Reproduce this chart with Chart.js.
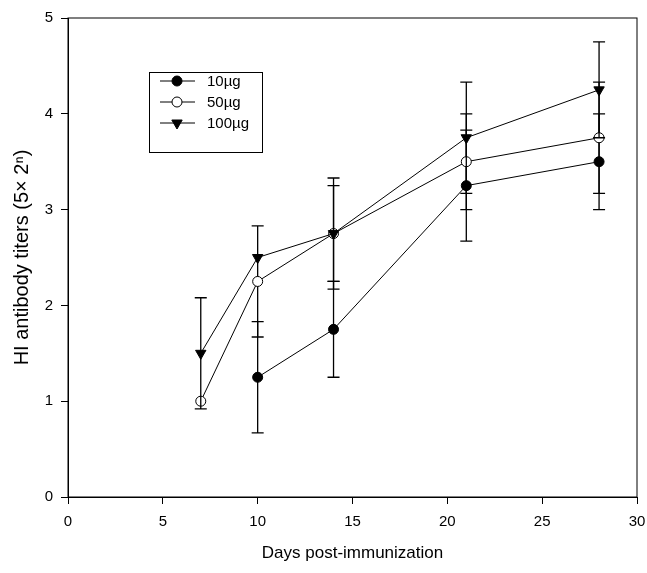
<!DOCTYPE html>
<html>
<head>
<meta charset="utf-8">
<script src="https://cdn.jsdelivr.net/npm/chart.js@4/dist/chart.umd.min.js"></script>
<style>
  html, body { margin: 0; padding: 0; background: #fff; }
  #wrap { width: 647px; height: 573px; }
</style>
</head>
<body>
<div id="wrap"><canvas id="hi-chart"></canvas></div>
<script>
// data
var days = [7, 10, 14, 21, 28];
var labels = ['10µg', '50µg', '100µg'];
var titer10 = [null, 1.25, 1.75, 3.25, 3.5];
var titer50 = [1.0, 2.25, 2.75, 3.5, 3.75];
var titer100 = [1.5, 2.5, 2.75, 3.75, 4.25];
var err10 = [0, 0.58, 0.5, 0.58, 0.5];
var err50 = [0, 0.58, 0.58, 0.5, 0.58];
var err100 = [0.58, 0, 0.5, 0.58, 0.5];
var xTicks = [0, 5, 10, 15, 20, 25, 30];
var yTicks = [0, 1, 2, 3, 4, 5];

var FONT = 'Liberation Sans, Arial, sans-serif';

function points(vals) {
  var out = [];
  for (var i = 0; i < days.length; i++) {
    if (vals[i] !== null) out.push({ x: days[i], y: vals[i] });
  }
  return out;
}

function errs(vals, e) {
  var out = [];
  for (var i = 0; i < days.length; i++) {
    if (vals[i] !== null) out.push(e[i]);
  }
  return out;
}

function series(label, vals, e, style, fill, rot, order) {
  return {
    label: label,
    data: points(vals),
    errors: errs(vals, e),
    borderColor: '#000',
    borderWidth: 1,
    pointStyle: style,
    pointRotation: rot,
    pointRadius: style === 'triangle' ? 6 : 5,
    pointBackgroundColor: fill,
    pointBorderColor: '#000',
    pointBorderWidth: 1,
    tension: 0,
    fill: false,
    order: order
  };
}

// error bars, drawn per dataset just before its line and symbols
var errorBars = {
  id: 'errorBars',
  beforeDatasetDraw: function (chart, args) {
    var ds = chart.data.datasets[args.index];
    var xs = chart.scales.x, ys = chart.scales.y;
    var ctx = chart.ctx;
    ctx.save();
    ctx.strokeStyle = '#000';
    ctx.lineWidth = 1.3;
    ds.data.forEach(function (p, i) {
      var e = ds.errors[i];
      if (!e) return;
      var px = xs.getPixelForValue(p.x);
      var top = ys.getPixelForValue(p.y + e);
      var bot = ys.getPixelForValue(p.y - e);
      ctx.beginPath();
      ctx.moveTo(px, top); ctx.lineTo(px, bot);
      ctx.moveTo(px - 6, top); ctx.lineTo(px + 6, top);
      ctx.moveTo(px - 6, bot); ctx.lineTo(px + 6, bot);
      ctx.stroke();
    });
    ctx.restore();
  }
};

var frame = {
  id: 'frame',
  beforeDatasetsDraw: function (chart) {
    var a = chart.chartArea, ctx = chart.ctx;
    ctx.save();
    ctx.strokeStyle = '#000';
    ctx.lineWidth = 1;
    ctx.strokeRect(a.left, a.top, a.right - a.left, a.bottom - a.top);
    ctx.restore();
  }
};

// boxed legend inside the plot, as in the figure
var boxLegend = {
  id: 'boxLegend',
  afterDraw: function (chart) {
    var ctx = chart.ctx;
    var bx = 149, by = 72, bw = 113, bh = 80;
    ctx.save();
    ctx.fillStyle = '#fff';
    ctx.fillRect(bx, by, bw, bh);
    ctx.strokeStyle = '#000';
    ctx.lineWidth = 1;
    ctx.strokeRect(bx + 0.5, by + 0.5, bw, bh);
    chart.data.datasets.forEach(function (ds, i) {
      var y = by + 9 + i * 21;
      ctx.beginPath();
      ctx.moveTo(160, y); ctx.lineTo(195, y);
      ctx.stroke();
      ctx.fillStyle = ds.pointBackgroundColor;
      Chart.helpers.drawPoint(ctx, {
        pointStyle: ds.pointStyle,
        radius: ds.pointRadius,
        rotation: ds.pointRotation,
        borderWidth: 1
      }, 177, y);
      ctx.fillStyle = '#000';
      ctx.font = '15px ' + FONT;
      ctx.textBaseline = 'middle';
      ctx.fillText(ds.label, 207, y + 1);
    });
    ctx.restore();
  }
};

var config = {
  type: 'line',
  data: {
    datasets: [
      series(labels[0], titer10, err10, 'circle', '#000', 0, 3),
      series(labels[1], titer50, err50, 'circle', '#fff', 0, 2),
      series(labels[2], titer100, err100, 'triangle', '#000', 180, 1)
    ]
  },
  options: {
    responsive: true,
    maintainAspectRatio: false,
    animation: false,
    layout: { padding: { top: 18, right: 10, left: 0, bottom: 0 } },
    plugins: {
      legend: { display: false },
      tooltip: { enabled: false }
    },
    scales: {
      x: {
        type: 'linear',
        min: 0,
        max: 30,
        afterFit: function (s) {
          s.height = 76;
          s.paddingLeft = 0;
          s.paddingRight = 0;
        },
        afterBuildTicks: function (s) { s.ticks = xTicks.map(function (v) { return { value: v }; }); },
        grid: { drawOnChartArea: false, drawTicks: true, tickLength: 7, color: '#000' },
        border: { color: '#000', width: 1 },
        ticks: { color: '#000', font: { family: FONT, size: 15 }, padding: 9 },
        title: {
          display: true,
          text: 'Days post-immunization',
          color: '#000',
          font: { family: FONT, size: 17 },
          padding: { top: 0, bottom: 9 }
        }
      },
      y: {
        min: 0,
        max: 5,
        afterFit: function (s) { s.width = 68; },
        afterBuildTicks: function (s) { s.ticks = yTicks.map(function (v) { return { value: v }; }); },
        grid: { drawOnChartArea: false, drawTicks: true, tickLength: 7, color: '#000' },
        border: { color: '#000', width: 1 },
        ticks: { color: '#000', font: { family: FONT, size: 15 }, padding: 8 },
        title: {
          display: true,
          text: 'HI antibody titers (5× 2ⁿ)',
          color: '#000',
          font: { family: FONT, size: 20 },
          padding: { top: 10, bottom: 0 }
        }
      }
    }
  },
  plugins: [frame, errorBars, boxLegend]
};

var ctx = document.getElementById('hi-chart').getContext('2d');
var hiChart = new Chart(ctx, config);
</script>
</body>
</html>
